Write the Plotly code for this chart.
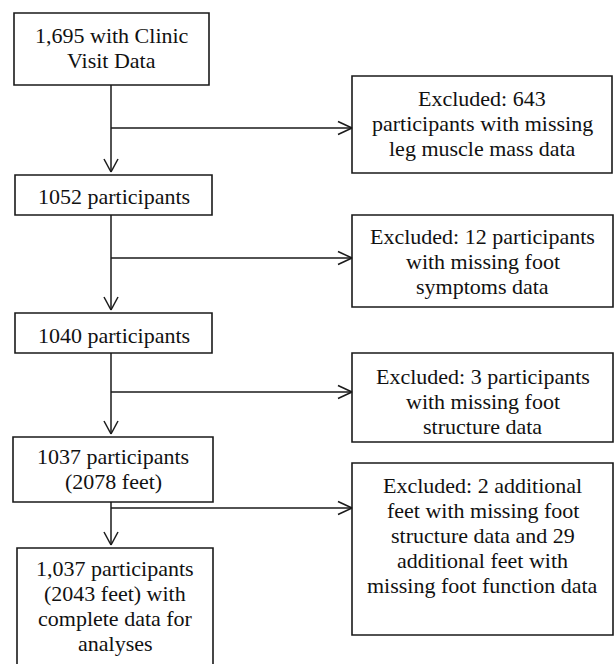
import plotly.graph_objects as go

# ---- content (text of the flow diagram) ----
main_labels = [
    "1,695 with Clinic<br>Visit Data",
    "1052 participants",
    "1040 participants",
    "1037 participants<br>(2078 feet)",
    "1,037 participants<br>(2043 feet) with<br>complete data for<br>analyses",
]
excluded_labels = [
    "Excluded: 643<br>participants with missing<br>leg muscle mass data",
    "Excluded: 12 participants<br>with missing foot<br>symptoms data",
    "Excluded: 3 participants<br>with missing foot<br>structure data",
    "Excluded: 2 additional<br>feet with missing foot<br>structure data and 29<br>additional feet with<br>missing foot function data",
]

# ---- geometry (pixels, origin top-left of the window) ----
W, H = 615, 664
main_boxes = [  # x0, x1, y0, y1, first line centre y
    (14, 209, 13, 85, 35),
    (15, 212, 175, 215, 196),
    (15, 212, 313, 353, 335),
    (13, 213, 437, 502, 456),
    (17, 213, 548, 672, 568),
]
excl_boxes = [  # x0, x1, y0, y1, first line centre y, arrow y
    (352, 612, 76, 173, 98, 128),
    (352, 613, 215, 307, 236, 258),
    (352, 613, 353, 442, 376, 392),
    (352, 613, 463, 635, 485, 508),
]
LINE_STEP = 25
spine_x = 111
LINE = "#1a1a1a"
FONT = dict(family="Liberation Serif", size=22, color="#111111")

fig = go.Figure()
shapes = []
annotations = []

def rect(x0, x1, y0, y1):
    shapes.append(dict(type="rect", xref="x", yref="y", x0=x0, x1=x1, y0=y0, y1=y1,
                       line=dict(color=LINE, width=1.6), fillcolor="rgba(0,0,0,0)", layer="above"))

def seg(x0, y0, x1, y1):
    shapes.append(dict(type="line", xref="x", yref="y", x0=x0, y0=y0, x1=x1, y1=y1,
                       line=dict(color=LINE, width=1.5), layer="above"))

def label(xc, y_first, text):
    for k, line in enumerate(text.split("<br>")):
        annotations.append(dict(x=xc, y=y_first + k * LINE_STEP, xref="x", yref="y",
                                text=line, showarrow=False, font=FONT, align="center",
                                xanchor="center", yanchor="middle"))

for (x0, x1, y0, y1, ty), lab in zip(main_boxes, main_labels):
    rect(x0, x1, y0, y1)
    label((x0 + x1) / 2, ty, lab)

for (x0, x1, y0, y1, ty, ay), lab in zip(excl_boxes, excluded_labels):
    rect(x0, x1, y0, y1)
    label((x0 + x1) / 2, ty, lab)
    seg(spine_x, ay, x0, ay)
    seg(x0 - 14, ay - 6.5, x0, ay)
    seg(x0 - 14, ay + 6.5, x0, ay)

for i in range(len(main_boxes) - 1):
    top = main_boxes[i][3]
    bot = main_boxes[i + 1][2]
    seg(spine_x, top, spine_x, bot - 3)
    seg(spine_x - 7, bot - 16, spine_x, bot - 3)
    seg(spine_x + 7, bot - 16, spine_x, bot - 3)

fig.update_layout(
    width=W, height=H,
    margin=dict(l=0, r=0, t=0, b=0),
    paper_bgcolor="white", plot_bgcolor="white",
    xaxis=dict(range=[0, W], visible=False, fixedrange=True),
    yaxis=dict(range=[H, 0], visible=False, fixedrange=True),
    shapes=shapes, annotations=annotations, showlegend=False,
)
fig.write_html(
    "out.html",
    config={"displayModeBar": False},
    post_script="document.body.style.margin='0';document.body.style.overflow='hidden';",
)
